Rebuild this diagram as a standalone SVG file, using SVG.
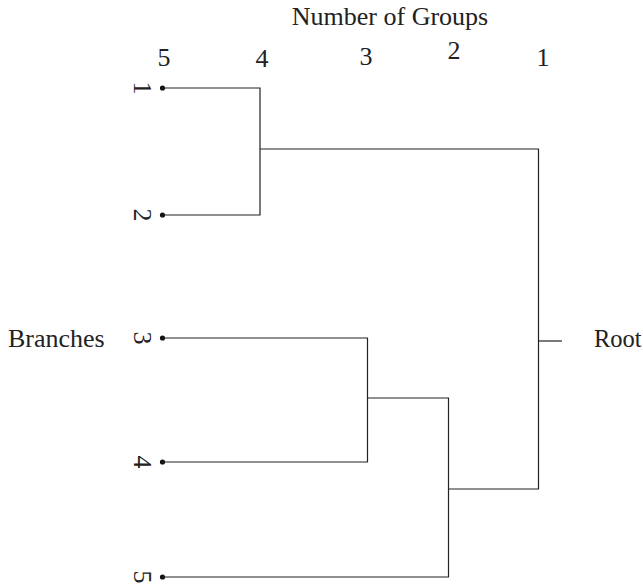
<svg xmlns="http://www.w3.org/2000/svg" width="643" height="587" viewBox="0 0 643 587">
  <style>
    text { font-family: "Liberation Serif", "Times New Roman", serif; font-size: 26px; fill: #222; }
    .mid { text-anchor: middle; }
    .edge { fill: none; stroke: #222; stroke-width: 1.2; }
    .leaf { fill: #111; }
  </style>
  <rect width="643" height="587" fill="#fff"/>

  <!-- axis titles -->
  <g id="axis">
    <text class="mid" x="390" y="25">Number of Groups</text>
    <text class="mid" x="164" y="66">5</text>
    <text class="mid" x="262" y="67">4</text>
    <text class="mid" x="366" y="65">3</text>
    <text class="mid" x="454" y="59">2</text>
    <text class="mid" x="543" y="66">1</text>
    <text x="8" y="347">Branches</text>
    <text x="594" y="347" style="font-size:24.5px">Root</text>
  </g>

  <!-- leaf nodes -->
  <g id="leaf1">
    <circle class="leaf" cx="162.5" cy="88" r="2.6"/>
    <text class="mid" transform="translate(134,88) rotate(90)">1</text>
  </g>
  <g id="leaf2">
    <circle class="leaf" cx="162.5" cy="215" r="2.6"/>
    <text class="mid" transform="translate(134,215) rotate(90)">2</text>
  </g>
  <g id="leaf3">
    <circle class="leaf" cx="162.5" cy="338" r="2.6"/>
    <text class="mid" transform="translate(134,338) rotate(90)">3</text>
  </g>
  <g id="leaf4">
    <circle class="leaf" cx="162.5" cy="462" r="2.6"/>
    <text class="mid" transform="translate(134,462) rotate(90)">4</text>
  </g>
  <g id="leaf5">
    <circle class="leaf" cx="162.5" cy="577" r="2.6"/>
    <text class="mid" transform="translate(134,577) rotate(90)">5</text>
  </g>

  <!-- dendrogram links -->
  <g id="connectors">
    <path class="edge" d="M162.5,88 H260 V215 H162.5"/>
    <path class="edge" d="M260,149 H538.5 V489 H448.5"/>
    <path class="edge" d="M162.5,338 H367.5 V462 H162.5"/>
    <path class="edge" d="M367.5,398 H448.5 V577 H162.5"/>
    <path class="edge" d="M538.5,341 H562"/>
  </g>
</svg>
